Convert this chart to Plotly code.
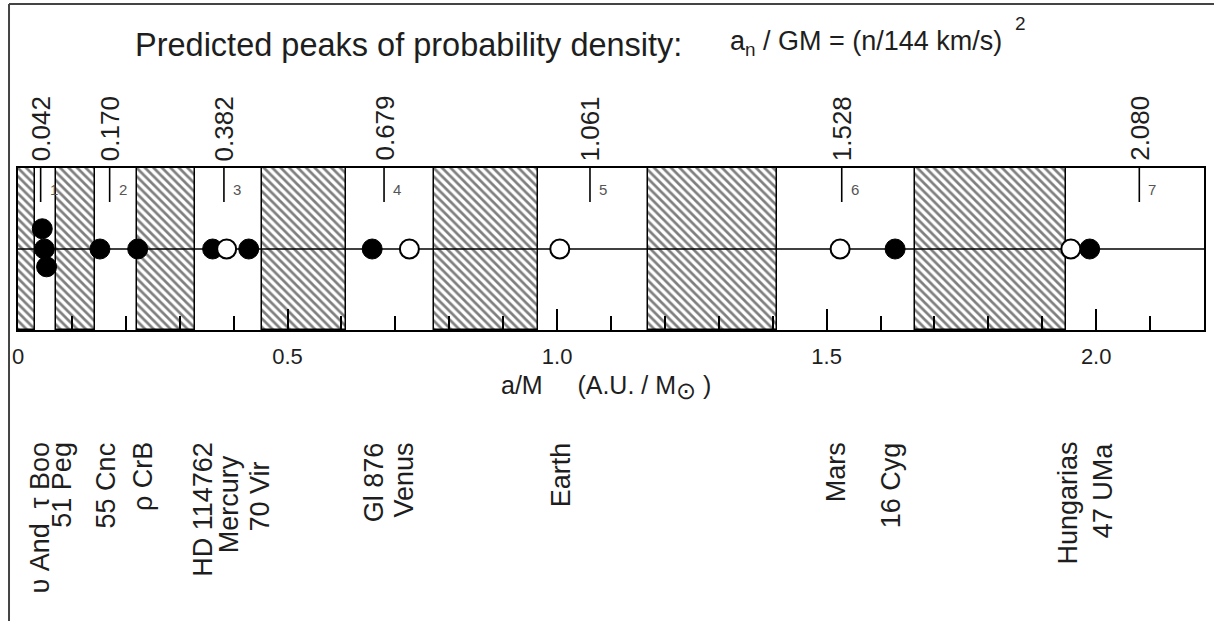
import plotly.graph_objects as go

# Predicted peaks of probability density, a_n / GM = (n / 144 km/s)^2
peak_n = [1, 2, 3, 4, 5, 6, 7]
peak_a = [0.042, 0.170, 0.382, 0.679, 1.061, 1.528, 2.080]

# Hatched (disfavoured) zones between the peaks, in a/M (AU / M_sun)
gap_lo = [0.000, 0.070, 0.220, 0.453, 0.772, 1.168, 1.664]
gap_hi = [0.031, 0.142, 0.329, 0.609, 0.964, 1.407, 1.944]

# Extrasolar planets (filled circles)
exo_names = ["υ And", "τ Boo", "51 Peg", "55 Cnc", "ρ CrB", "HD 114762",
             "70 Vir", "Gl 876", "16 Cyg", "47 UMa"]
exo_a = [0.045, 0.049, 0.053, 0.152, 0.222, 0.361, 0.428, 0.657, 1.627, 1.988]
exo_row = [0.25, 0.0, -0.22, 0, 0, 0, 0, 0, 0, 0]

# Solar-system bodies (open circles)
sol_names = ["Mercury", "Venus", "Earth", "Mars", "Hungarias"]
sol_a = [0.387, 0.726, 1.005, 1.525, 1.953]

# Object names written below the axis
label_text = ["υ And  τ Boo", "51 Peg", "55 Cnc", "ρ CrB", "HD 114762",
              "Mercury", "70 Vir", "Gl 876", "Venus", "Earth", "Mars",
              "16 Cyg", "Hungarias", "47 UMa"]
label_x = [0.040, 0.081, 0.164, 0.231, 0.342, 0.392, 0.448, 0.661, 0.716,
           1.007, 1.518, 1.620, 1.946, 2.013]
label_drop = [0, 0, 0, 0, 0, 13, 20, 0, 0, 0, 0, 0, 0, 0]

x_ticks = [0, 0.5, 1.0, 1.5, 2.0]
x_tick_text = ["0", "0.5", "1.0", "1.5", "2.0"]

W, H = 1214, 621
ML, MR, MT, MB = 18, 8, 168, 291
FONT = "Liberation Sans, Arial, sans-serif"
INK = "#1e1e1e"


def px_x(p):
    return (p - ML) / (W - ML - MR)


def px_y(p):
    return (H - MB - p) / (H - MT - MB)


fig = go.Figure()

# hatched zones
fig.add_trace(go.Bar(
    x=[(lo + hi) / 2 for lo, hi in zip(gap_lo, gap_hi)],
    y=[2] * len(gap_lo),
    base=[-1] * len(gap_lo),
    width=[hi - lo for lo, hi in zip(gap_lo, gap_hi)],
    marker=dict(color="white",
                line=dict(color="black", width=1.5),
                pattern=dict(shape="\\", size=6, solidity=0.45,
                             fgcolor="black", fillmode="overlay")),
    hoverinfo="skip", showlegend=False,
))

# central axis line
fig.add_trace(go.Scatter(
    x=[0, 2.2], y=[0, 0], mode="lines",
    line=dict(color="black", width=1.6),
    hoverinfo="skip", showlegend=False,
))

# short marks for the predicted peaks
px, py = [], []
for a in peak_a:
    px += [a, a, None]
    py += [1, 0.58, None]
fig.add_trace(go.Scatter(
    x=px, y=py, mode="lines", line=dict(color="black", width=1.6),
    hoverinfo="skip", showlegend=False,
))

# planets
fig.add_trace(go.Scatter(
    x=exo_a, y=exo_row, mode="markers", text=exo_names,
    marker=dict(symbol="circle", size=20, color="black",
                line=dict(color="black", width=1)),
    showlegend=False,
))
fig.add_trace(go.Scatter(
    x=sol_a, y=[0] * len(sol_a), mode="markers", text=sol_names,
    marker=dict(symbol="circle", size=19, color="white",
                line=dict(color="black", width=2)),
    showlegend=False,
))

ann = []
# peak values above the frame and peak numbers inside
for n, a in zip(peak_n, peak_a):
    ann.append(dict(x=a, y=1, xref="x", yref="y", text=f"{a:.3f}",
                    textangle=-90, xanchor="center", yanchor="bottom",
                    yshift=5, showarrow=False,
                    font=dict(family=FONT, size=26, color=INK)))
    ann.append(dict(x=a, y=0.74, xref="x", yref="y", text=str(n),
                    xanchor="left", yanchor="middle", xshift=7,
                    showarrow=False,
                    font=dict(family=FONT, size=15, color="#555")))

# object names
for t, x, d in zip(label_text, label_x, label_drop):
    ann.append(dict(x=x, y=px_y(440 + d), xref="x", yref="paper", text=t,
                    textangle=-90, xanchor="center", yanchor="top",
                    showarrow=False,
                    font=dict(family=FONT, size=27, color=INK)))

# title
ann.append(dict(x=px_x(133), y=px_y(45), xref="paper", yref="paper",
                text="Predicted peaks of probability density:",
                xanchor="left", yanchor="middle", showarrow=False,
                font=dict(family=FONT, size=32.5, color=INK)))
ann.append(dict(x=px_x(729), y=px_y(43), xref="paper", yref="paper",
                text="a<sub>n</sub> / GM = (n/144 km/s)",
                xanchor="left", yanchor="middle", showarrow=False,
                font=dict(family=FONT, size=27, color=INK)))
ann.append(dict(x=px_x(1015), y=px_y(23), xref="paper", yref="paper",
                text="2", xanchor="left", yanchor="middle", showarrow=False,
                font=dict(family=FONT, size=19, color=INK)))

# axis title
ann.append(dict(x=px_x(607), y=px_y(387), xref="paper", yref="paper",
                text="a/M\u00a0\u00a0\u00a0\u00a0\u00a0(A.U.\u00a0/\u00a0M"
                     "<sub><span style='font-size:24px'>⊙</span></sub>\u00a0)",
                xanchor="center", yanchor="middle", showarrow=False,
                font=dict(family=FONT, size=25, color=INK)))

shapes = [
    # outer frame of the figure
    dict(type="line", xref="paper", yref="paper",
         x0=px_x(9), x1=px_x(W + 2), y0=px_y(4), y1=px_y(4),
         line=dict(color="#444", width=2)),
    dict(type="line", xref="paper", yref="paper",
         x0=px_x(9), x1=px_x(9), y0=px_y(4), y1=px_y(H + 2),
         line=dict(color="#444", width=2)),
]

fig.update_layout(
    width=W, height=H, autosize=False,
    margin=dict(l=ML, r=MR, t=MT, b=MB, pad=0),
    paper_bgcolor="white", plot_bgcolor="white",
    annotations=ann, shapes=shapes,
    xaxis=dict(range=[0, 2.2], showgrid=False, zeroline=False,
               showline=True, linecolor="black", linewidth=2, mirror=True,
               ticks="inside", ticklen=21, tickwidth=1.6, tickcolor="black",
               tickmode="array", tickvals=x_ticks, ticktext=x_tick_text,
               ticklabelstandoff=6,
               tickfont=dict(family=FONT, size=22, color=INK),
               minor=dict(ticks="inside", tickmode="linear", tick0=0,
                          dtick=0.1, ticklen=14, tickwidth=1.6,
                          tickcolor="black", showgrid=False)),
    yaxis=dict(range=[-1, 1], showgrid=False, zeroline=False,
               showline=True, linecolor="black", linewidth=2, mirror=True,
               showticklabels=False, ticks=""),
    bargap=0,
)

fig.write_html("out.html")
